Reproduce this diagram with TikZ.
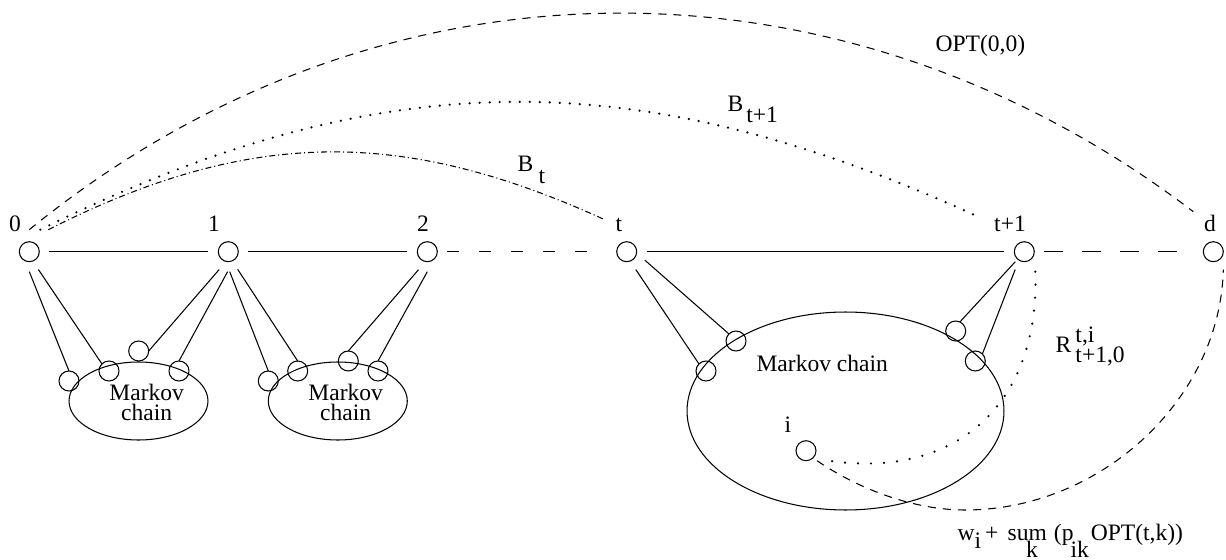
\documentclass[tikz,border=0pt]{standalone}
\usepackage{fontspec}
\setmainfont{Liberation Serif}
\usetikzlibrary{shapes.geometric,calc}
\begin{document}
\begin{tikzpicture}[x=0.02cm,y=-0.02cm,line width=0.6pt,
  every node/.style={font=\fontsize{13.4}{16}\selectfont, inner sep=0pt},
  vtx/.style={circle, draw, minimum size=0.4cm, inner sep=0pt, outer sep=0.2cm},
  st/.style={circle, draw, minimum size=0.4cm, inner sep=0pt, outer sep=0pt},
  mc/.style={ellipse, draw, inner sep=0pt, outer sep=0pt},
  lbl/.style={anchor=base},
  ldash/.style={dash pattern=on 6.8pt off 11.4pt},
  ldashb/.style={dash pattern=on 10.8pt off 10.8pt},
  optdash/.style={dash pattern=on 4.6pt off 4pt},
  dotb/.style={line width=1.4pt, line cap=round, dash pattern=on 0pt off 5.7pt},
  dotr/.style={line width=1.4pt, line cap=round, dash pattern=on 0pt off 7.4pt},
  dashdot/.style={dash pattern=on 3.4pt off 1.7pt on 0.6pt off 1.7pt}]
\useasboundingbox (0,0) rectangle (1226,560);

% main vertices
\node[vtx] (n0)  at (29.3,251.7) {};
\node[vtx] (n1)  at (228.3,251.7) {};
\node[vtx] (n2)  at (427.3,251.7) {};
\node[vtx] (nt)  at (626.7,251.7) {};
\node[vtx] (nt1) at (1024.3,251.7) {};
\node[vtx] (nd)  at (1213.3,251.7) {};

\node[lbl] (l0)  at (15,232) {0};
\node[lbl] (l1)  at (214,232) {1};
\node[lbl] (l2)  at (423,232) {2};
\node[lbl] (lt)  at (619,232) {t};
\node[lbl] (lt1) at (1010,232) {t+1};
\node[lbl] (ld)  at (1210,232) {d};

% Markov chains
\node[mc, minimum width=2.78cm, minimum height=1.56cm] (m1) at (138.5,401) {};
\node[mc, minimum width=2.78cm, minimum height=1.56cm] (m2) at (337.8,401) {};
\node[mc, minimum width=6.34cm, minimum height=3.96cm] (m3) at (845.5,411) {};
\node[lbl] (m1a) at (146.7,400.7) {Markov};
\node[lbl] (m1b) at (146.7,420.7) {chain};
\node[lbl] (m2a) at (345.7,400.7) {Markov};
\node[lbl] (m2b) at (345.7,420.7) {chain};
\node[anchor=base west] (m3a) at (756,371.7) {Markov chain};

% small states
\node[st] (A) at (69,381) {};
\node[st] (B) at (109,371) {};
\node[st] (C) at (138.7,351) {};
\node[st] (D) at (179,371) {};
\node[st] (E) at (268.3,381) {};
\node[st] (F) at (297.7,371) {};
\node[st] (G) at (348.3,361) {};
\node[st] (H) at (378,371) {};
\node[st] (I) at (706,371) {};
\node[st] (J) at (736,341) {};
\node[st] (K) at (955.7,331) {};
\node[st] (L) at (975.3,361) {};
\node[st] (ci) at (806,450.7) {};
\node[lbl] (li) at (788,432) {i};

% horizontal line
\draw (n0) -- (n1);
\draw (n1) -- (n2);
\draw[ldash] (n2) -- (nt);
\draw (nt) -- (nt1);
\draw[ldashb] (nt1) -- (nd);

% connections to Markov chain states
\draw (n0.south) -- (A.north);
\draw (n0.-63) -- (B.135);
\draw (n1.-117) -- (C.east);
\draw (n1.-92) -- (D.north);
\draw (n1.-86) -- (E.north);
\draw (n1.-62) -- (F.north);
\draw (n2.-116) -- (G.north);
\draw (n2.south) -- (H.north);
\draw (nt.-63) -- (I.135);
\draw (nt.-25) -- (J.135);
\draw ([shift={(-9,10)}]nt1.center) -- (K.65);
\draw (nt1.-117) -- (L.45);

% arcs
\draw[optdash] ([shift={(0,-22)}]n0.center) .. controls (380,-56) and (842,-56) .. ([shift={(-20,-40)}]nd.center);
\draw[dotb] ([shift={(11,-22)}]n0.center) .. controls (381,61.3) and (639,61.3) .. ([shift={(-44,-34)}]nt1.center);
\draw[dashdot] ([shift={(19,-22)}]n0.center) .. controls (250,127.7) and (403,127.7) .. ([shift={(-22,-32)}]nt.center);
\draw[dotr] ([shift={(11,20)}]nt1.center) .. controls (1040,400) and (960,480) .. ([shift={(22,10)}]ci.center);
\draw[optdash] ([shift={(11,10)}]ci.center) .. controls (860,490) and (915,510) .. (965,510) .. controls (1100,510) and (1220,400) .. ([shift={(10,18)}]nd.center);

% labels
\node[anchor=base west] (lopt) at (935,52) {OPT(0,0)};
\node[anchor=base west] (lbt1) at (727,112) {B\hspace{1.8pt}\raisebox{-5.7pt}{t+1}};
\node[anchor=base west] (lbt) at (517,172) {B\hspace{3pt}\raisebox{-6.3pt}{t}};
\node[anchor=base west] (lr) at (1055,352) {R\hspace{2.4pt}\rlap{\raisebox{5.4pt}{t,i}}\raisebox{-5.7pt}{t+1,0}};
\node[anchor=base west] (lw) at (957,540) {w\raisebox{-5.1pt}{i}\hspace{2.3pt}+\hspace{5.3pt}sum\llap{\raisebox{-10.2pt}{k}\hspace{5.1pt}}\hspace{4pt}(p\hspace{-1.7pt}\raisebox{-10.2pt}{ik}\hspace{1.1pt}OPT(t,k))};
\end{tikzpicture}
\end{document}
